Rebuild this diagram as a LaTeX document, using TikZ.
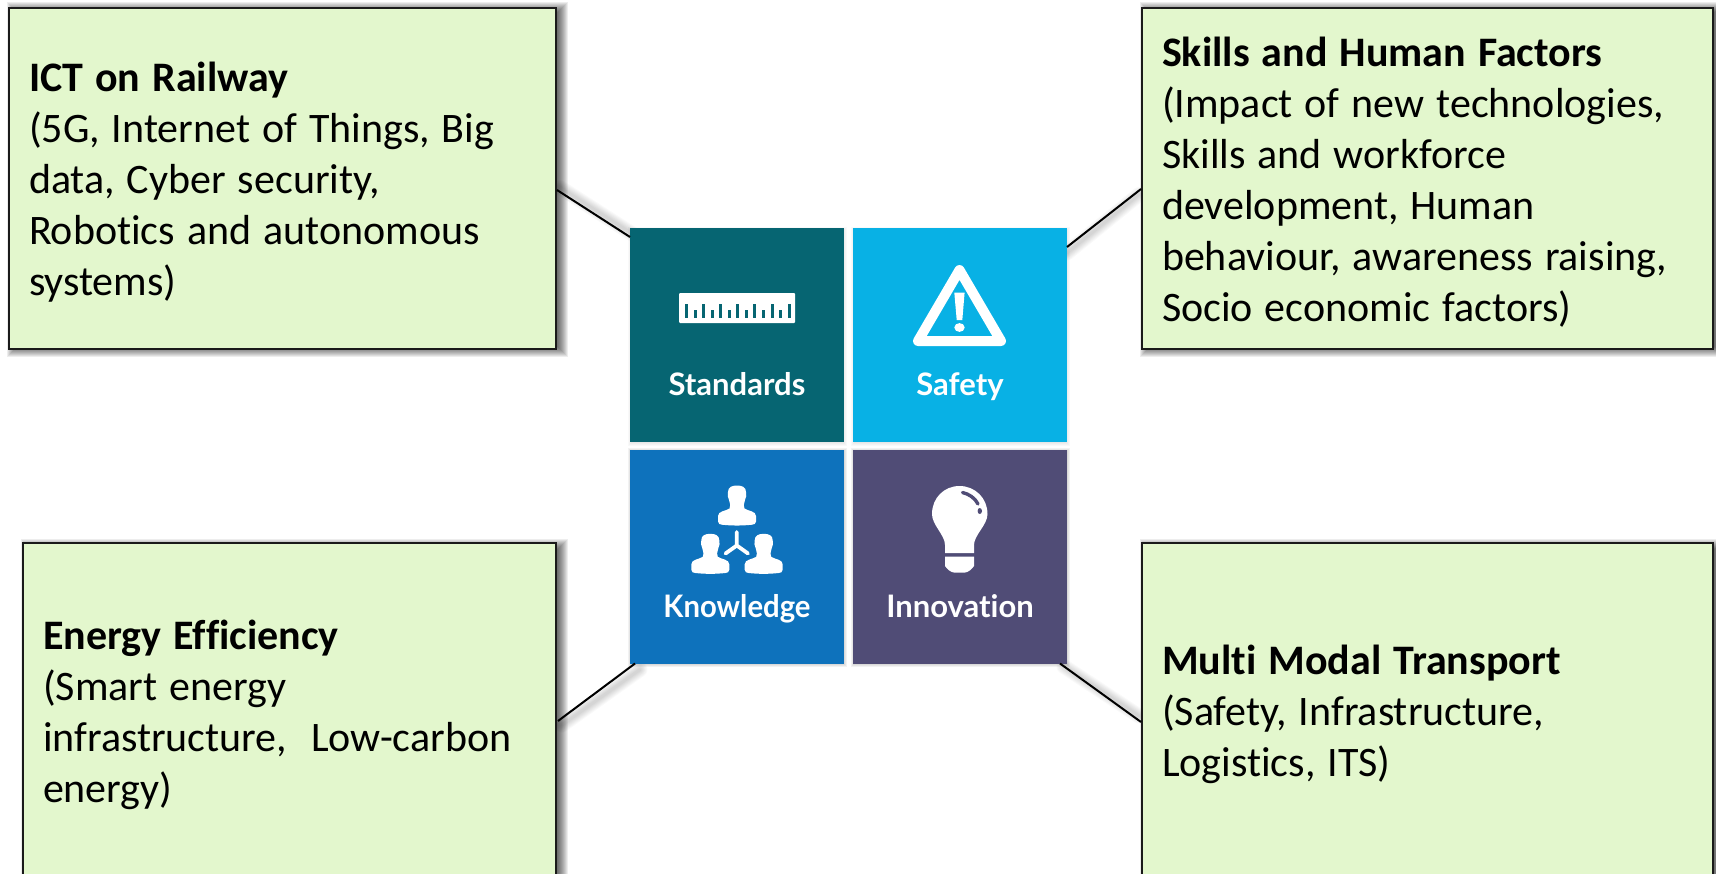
\documentclass[tikz,border=0pt]{standalone}
\usepackage{graphicx}
\usepackage{fontspec}
\setmainfont[Ligatures=NoCommon]{Carlito}
\newfontfamily\tilefont[Ligatures=NoCommon]{Lato}
\usetikzlibrary{calc,backgrounds}
\definecolor{boxgreen}{HTML}{E3F7CD}
\definecolor{boxline}{HTML}{1A1A1A}
\definecolor{cteal}{HTML}{066572}
\definecolor{ccyan}{HTML}{08B1E5}
\definecolor{cblue}{HTML}{0E72BC}
\definecolor{cpurple}{HTML}{504C76}
\tikzset{
  topicbox/.style={draw=boxline,line width=2.4pt,fill=boxgreen,inner xsep=20pt,inner ysep=0pt,outer sep=0pt,
    align=left,font=\fontsize{42}{51}\selectfont,execute at begin node={\spaceskip=.285em\relax\rule{0pt}{37pt}}},
  tile/.style={minimum width=214pt,minimum height=214pt,inner sep=0pt,outer sep=0pt},
  tilelabel/.style={text=white,inner sep=0pt,anchor=base,font=\tilefont\bfseries\fontsize{31}{36}\selectfont},
  link/.style={draw=black,line width=2pt},
  linkshadow/.style={draw=black,opacity=.025,line cap=round},
}
\newcommand{\softshadow}[5]{% node, dx, dy, max spread, opacity
  \foreach \r in {0,1,...,#4}{
    \fill[black,opacity=#5] ([shift={(#2+\r-#4/2-1,#3+\r-#4/2-1)}]#1.north west)
      rectangle ([shift={(#2-\r+#4/2+1,#3-\r+#4/2+1)}]#1.south east);
  }}
\newcommand{\personicon}[2]{%
  \fill[white,shift={(#1,#2)}]
    (-9,-6) .. controls (-9,-11) and (-5,-12.5) .. (0,-12.5)
    .. controls (5,-12.5) and (9,-11) .. (9,-6)
    .. controls (9,-3) and (10,-1) .. (8,2)
    .. controls (7,6) and (6,9) .. (7.5,10.5)
    .. controls (11,13) and (19,13) .. (19,18)
    -- (19,23.5) .. controls (19,26) and (17,26.5) .. (15,26.7)
    .. controls (5,27.8) and (-5,27.8) .. (-15,26.7)
    .. controls (-17,26.5) and (-19,26) .. (-19,23.5)
    -- (-19,18) .. controls (-19,13) and (-11,13) .. (-7.5,10.5)
    .. controls (-6,9) and (-7,6) .. (-8,2)
    .. controls (-10,-1) and (-9,-3) .. (-9,-6) -- cycle;}
\begin{document}
\begin{tikzpicture}[x=1pt,y=-1pt]
\useasboundingbox (0,0) rectangle (1716,873);
% topic boxes
\node[topicbox,text width=507pt,minimum height=341pt] (b1) at (282.5,178.5)
  {\textbf{ICT on Railway}\\(5G, Internet of Things, Big\\data, Cyber security,\\Robotics and autonomous\\systems)};
\node[topicbox,text width=531pt,minimum height=341pt] (b2) at (1427.5,178.5)
  {\textbf{Skills and Human Factors}\\(Impact of new technologies,\\Skills and workforce\\development, Human\\behaviour, awareness raising,\\Socio economic factors)};
\node[topicbox,text width=493pt,minimum height=336pt] (b3) at (289.5,711)
  {\textbf{Energy Efficiency}\\(Smart energy\\infrastructure,~~Low-carbon\\energy)};
\node[topicbox,text width=531pt,minimum height=336pt] (b4) at (1427.5,711)
  {\textbf{Multi Modal Transport}\\(Safety, Infrastructure,\\Logistics, ITS)};
% tiles
\node[tile,fill=cteal] (t1) at (737,335) {};
\node[tile,fill=ccyan] (t2) at (960,335) {};
\node[tile,fill=cblue] (t3) at (737,556.5) {};
\node[tile,fill=cpurple] (t4) at (960,556.5) {};
\node[tilelabel] (l1) at (737,395) {Standards};
\node[tilelabel] (l2) at (960,395) {Safety};
\node[tilelabel] (l3) at (737,617) {\scalebox{0.945}[1]{Knowledge}};
\node[tilelabel] (l4) at (960,617) {Innovation};
% connectors
\draw[link] ([shift={(1,11.5)}]b1.east) -- ([shift={(0,9)}]t1.north west);
\draw[link] ([shift={(-1,10.5)}]b2.west) -- ([shift={(0,19)}]t2.north east);
\draw[link] ([shift={(2,10)}]b3.east) -- ([shift={(5,0)}]t3.south west);
\draw[link] ([shift={(-1,11)}]b4.west) -- ([shift={(-7,0)}]t4.south east);
% shadows
\begin{pgfonlayer}{background}
\fill[white] (0,0) rectangle (1716,873);
\softshadow{b1}{5}{1}{12}{.07}
\softshadow{b2}{5}{1}{12}{.07}
\softshadow{b3}{5}{3}{12}{.07}
\softshadow{b4}{5}{3}{12}{.07}
\softshadow{t1}{0}{1}{3}{.025}
\softshadow{t2}{0}{1}{3}{.025}
\softshadow{t3}{0}{1}{3}{.05}
\softshadow{t4}{0}{1}{3}{.05}
\foreach \w in {3,5,...,15}{
  \draw[linkshadow,line width=\w pt] ([shift={(4,9)}]b1.east) -- ([shift={(4,7)}]t1.north west);
  \draw[linkshadow,line width=\w pt] ([shift={(-3,16)}]b2.west) -- ([shift={(0,25)}]t2.north east);
  \draw[linkshadow,line width=\w pt] ([shift={(6,14)}]b3.east) -- ([shift={(10,6)}]t3.south west);
  \draw[linkshadow,line width=\w pt] ([shift={(-3,5)}]b4.west) -- ([shift={(-3,3)}]t4.south east);
}
\end{pgfonlayer}
% ruler icon
\fill[white,rounded corners=1pt] (679,293) rectangle (795,323);
\foreach \i in {0,1,...,12}{
  \pgfmathsetmacro{\tx}{686.5+\i*8.55}
  \pgfmathsetmacro{\ty}{isodd(\i)?310:304}
  \fill[cteal] (\tx-1.5,\ty) rectangle (\tx+1.5,317.5);
}
% warning icon
\draw[white,line width=10pt,line join=round] (959.5,270) -- (1001,341) -- (918,341) -- cycle;
\fill[white] (954.3,292.5) -- (964.6,292.5) -- (962.3,320) -- (956.7,320) -- cycle;
\fill[white] (959.5,327.5) ellipse [x radius=5.2,y radius=4.4];
% people icon
\personicon{737}{498}
\personicon{710.3}{546.3}
\personicon{763.7}{546.3}
\draw[white,line width=3.8pt,line cap=round] (736.8,532) -- (736.8,545.5) (725.5,553.5) -- (736.8,545.5) -- (748,553.5);
% bulb icon
\fill[white] (945,553) -- (945,545)
  .. controls (945,535) and (932,525) .. (932,514)
  .. controls (932,498) and (944,486) .. (959.5,486)
  .. controls (975,486) and (987.5,498) .. (987.5,514)
  .. controls (987.5,525) and (974,535) .. (974,545)
  -- (974,553) -- cycle;
\fill[white] (945,556.5) -- (974,556.5) -- (974,566) .. controls (972,569) and (968,572.5) .. (965,572.5)
  -- (954,572.5) .. controls (951,572.5) and (947,569) .. (945,566) -- cycle;
\draw[cpurple,line width=3.4pt,line cap=round] (962.5,492.5) .. controls (969,494) and (975,498) .. (978,504);
\fill[cpurple] (979.8,511) ellipse [x radius=2.2,y radius=3];
\end{tikzpicture}
\end{document}
